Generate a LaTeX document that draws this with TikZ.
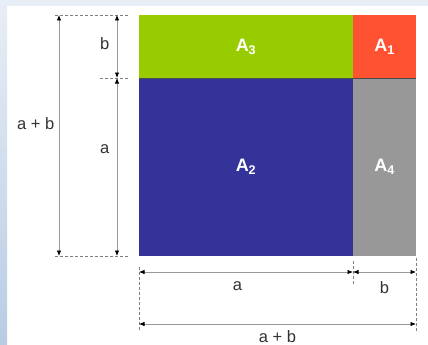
\documentclass[tikz,border=0pt]{standalone}
\usepackage{fontspec}
\setmainfont{Liberation Sans}
\usetikzlibrary{arrows.meta}
\definecolor{areagreen}{RGB}{153,204,0}
\definecolor{areared}{RGB}{255,82,51}
\definecolor{areablue}{RGB}{51,51,153}
\definecolor{areagray}{RGB}{152,152,152}
\definecolor{bgblue}{RGB}{232,238,246}
\definecolor{bgdeep}{RGB}{184,204,228}
\begin{document}
\begin{tikzpicture}
[x=1pt,y=-1pt,
  areadecorate/.style={shape=rectangle,inner sep=0pt,fill=#1,text=white,
    font=\bfseries\fontsize{18}{20}\selectfont},
  dimdecorate/.style={{Latex[length=5.5pt,width=4.5pt,black]}-{Latex[length=5.5pt,width=4.5pt,black]},
    draw=areagray,line width=0.8pt},
  guidedecorate/.style={dash pattern=on 3pt off 2pt,draw=gray,line width=0.7pt},
  labeldecorate/.style={font=\fontsize{16.5}{18}\selectfont,text=black!80}]
\useasboundingbox (0,0) rectangle (428,345);
%% background
\fill[white] (0,0) rectangle (428,345);
\fill[bgblue] (0,0) rectangle (428,6);
\shade[top color=bgblue,bottom color=bgdeep] (0,0) rectangle (7,345);
%% areas
\foreach \areaname/\x/\y/\w/\h/\areacolor/\sub in {
  A3/246/46.5/214/63/areagreen/3, A1/384.5/46.5/63/63/areared/1,
  A2/246/167/214/178/areablue/2, A4/384.5/167/63/178/areagray/4}
{
  \node (\areaname) at (\x,\y) [areadecorate=\areacolor,
    minimum width=\w pt,minimum height=\h pt] {A\textsubscript{\sub}};
}
\draw[black!70,line width=0.6pt] (A3.south west) -- (A1.south east);
%% end points of the measures
\foreach \pointname/\x/\y in {
  Ltop/59/15, Lbot/59/256, Mtop/117/15, Mmid/117/78, Mbot/117/256,
  Ga/55/15, Gb/128/15, Gc/100/78, Gd/128/78, Ge/55/256, Gf/128/256,
  Bleft/139/272, Bmid/353/272, Bright/416/272,
  Sleft/139/324, Sright/416/324,
  Va/139/267, Vb/139/330, Vc/353/261, Vd/353/284, Ve/416/258, Vf/416/333}
{
  \coordinate (\pointname) at (\x,\y);
}
%% guide lines
\path
\foreach \startnode/\endnode in {Ga/Gb, Gc/Gd, Ge/Gf, Va/Vb, Vc/Vd, Ve/Vf} {
  (\startnode) edge[guidedecorate] (\endnode)
};
%% measures
\draw[dimdecorate] (Ltop) -- node[labeldecorate,left=1pt,pos=0.45] {a + b} (Lbot);
\draw[dimdecorate] (Mtop) -- node[labeldecorate,left=4pt,pos=0.46] {b} (Mmid);
\draw[dimdecorate] (Mmid) -- node[labeldecorate,left=4pt,pos=0.4] {a} (Mbot);
\draw[dimdecorate] (Bleft) -- node[labeldecorate,below=6pt,pos=0.46] {a} (Bmid);
\draw[dimdecorate] (Bmid) -- node[labeldecorate,below=6pt] {b} (Bright);
\draw[dimdecorate] (Sleft) -- node[labeldecorate,below=3pt] {a + b} (Sright);
\end{tikzpicture}
\end{document}
